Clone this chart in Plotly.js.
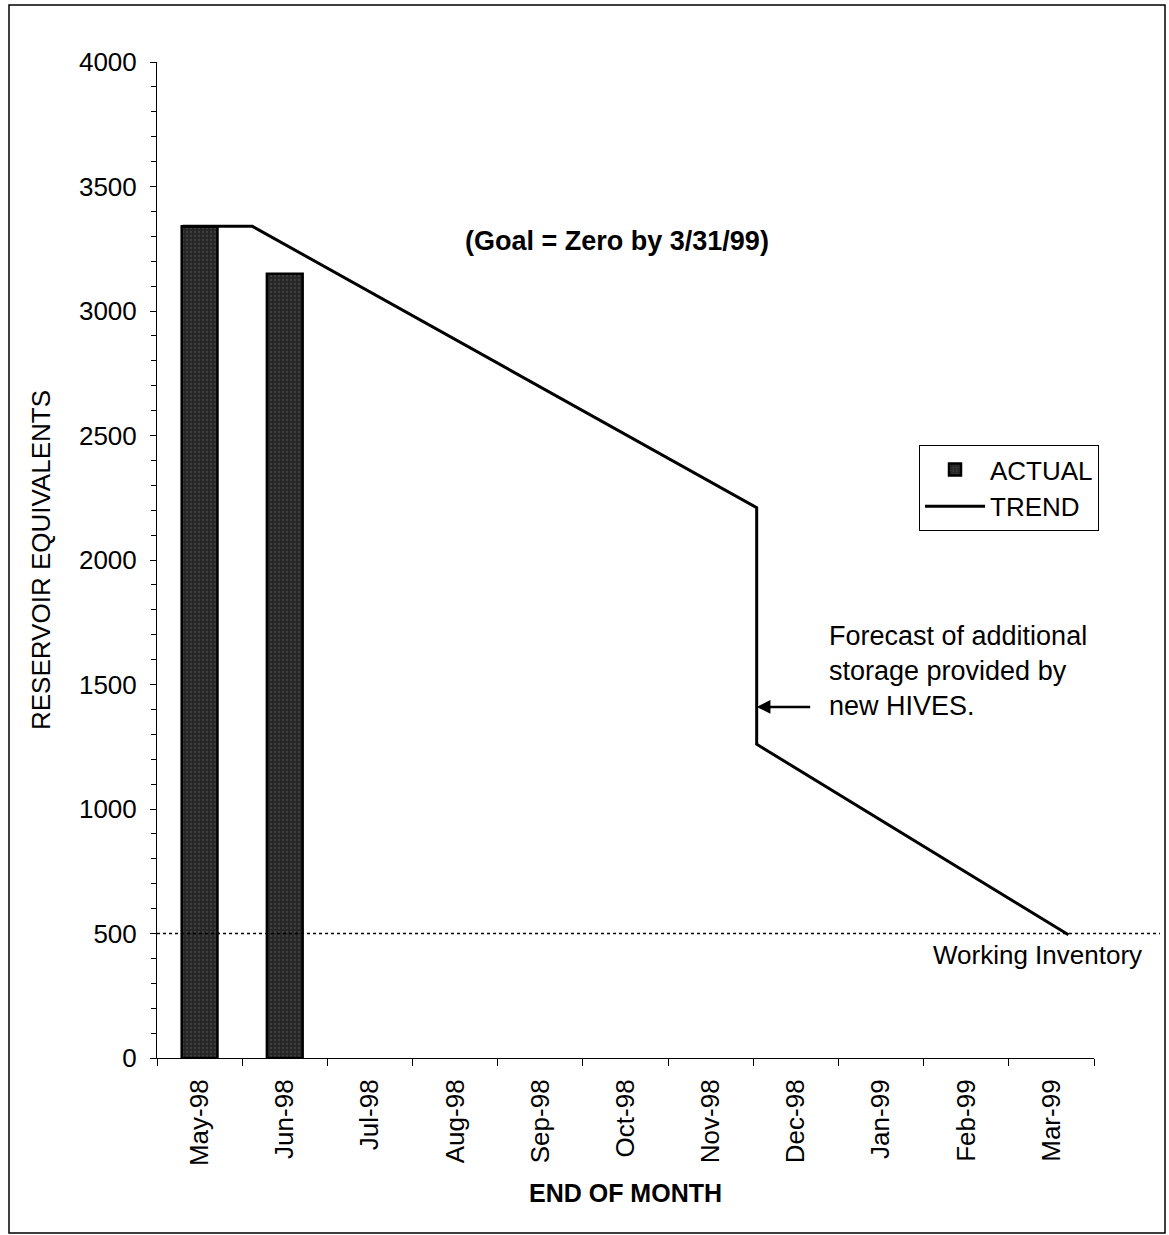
<!DOCTYPE html>
<html>
<head>
<meta charset="utf-8">
<script src="https://cdn.plot.ly/plotly-3.0.1.min.js"></script>
<style>html,body{margin:0;padding:0;background:#fff;}</style>
</head>
<body>
<div id="chart" style="width:1169px;height:1235px;"></div>
<script>
// Categories (end of month)
var months = ["May-98","Jun-98","Jul-98","Aug-98","Sep-98","Oct-98","Nov-98","Dec-98","Jan-99","Feb-99","Mar-99"];
// Actual values (bars)
var actual = [3340, 3150];
// Trend line (x in category-index units, y in reservoir equivalents)
var trendX = [-0.2, 0.62, 6.54, 6.54, 10.2];
var trendY = [3340, 3340, 2210, 1260, 495];
// Working inventory level
var workingInventory = 500;

var FONT = "Arial, 'Liberation Sans', sans-serif";

var W = 1169, H = 1235;
var mL = 157, mR = 75, mT = 62, mB = 177;
var pw = W - mL - mR, ph = H - mT - mB;
function px(x){ return (x - mL) / pw; }
function py(y){ return (H - mB - y) / ph; }

var traces = [
  {
    type: "bar",
    name: "ACTUAL",
    x: months.slice(0, actual.length),
    y: actual,
    width: 0.42,
    marker: {
      color: "#262626",
      line: {color: "#000", width: 2.5},
      pattern: {shape: ".", bgcolor: "#262626", fgcolor: "#5a5a5a", size: 4, solidity: 0.25, fillmode: "overlay"}
    },
    hoverinfo: "x+y"
  },
  {
    type: "scatter",
    mode: "lines",
    name: "TREND",
    x: trendX,
    y: trendY,
    xaxis: "x2",
    line: {color: "#000", width: 3}
  }
];

var layout = {
  width: W, height: H,
  margin: {l: mL, r: mR, t: mT, b: mB},
  paper_bgcolor: "#fff",
  plot_bgcolor: "#fff",
  font: {family: FONT, size: 26, color: "#000"},
  showlegend: true,
  legend: {
    x: px(919), y: py(445), xanchor: "left", yanchor: "top",
    bordercolor: "#000", borderwidth: 1, bgcolor: "#fff",
    font: {family: FONT, size: 26, color: "#000"},
    tracegroupgap: 0, itemwidth: 60
  },
  xaxis: {
    type: "category",
    categoryorder: "array",
    categoryarray: months,
    range: [-0.5, months.length - 0.5],
    tickson: "boundaries",
    ticks: "outside", ticklen: 7, tickcolor: "#000", tickwidth: 1,
    tickangle: -90,
    ticklabelstandoff: 10,
    tickfont: {family: FONT, size: 26, color: "#000"},
    showline: true, linecolor: "#000", linewidth: 1,
    showgrid: false, zeroline: false,
    title: {text: "<b>END OF MONTH</b>", font: {family: FONT, size: 25, color: "#000"}, standoff: 19}
  },
  xaxis2: {
    type: "linear",
    overlaying: "x",
    range: [-0.5, months.length - 0.5],
    visible: false
  },
  yaxis: {
    range: [0, 4000],
    dtick: 500, tick0: 0,
    ticks: "outside", ticklen: 6, tickcolor: "#000", tickwidth: 1,
    minor: {dtick: 100, ticks: "outside", ticklen: 5, tickcolor: "#000", tickwidth: 1, showgrid: false},
    ticklabelstandoff: 8,
    tickfont: {family: FONT, size: 26, color: "#000"},
    showline: true, linecolor: "#000", linewidth: 1,
    showgrid: false, zeroline: false,
    title: {text: "RESERVOIR EQUIVALENTS", font: {family: FONT, size: 26, color: "#000"}, standoff: 20}
  },
  shapes: [
    {type: "line", xref: "paper", yref: "y", x0: 0, x1: px(1160), y0: workingInventory, y1: workingInventory,
     line: {color: "#000", width: 1.5, dash: "dot"}},
    {type: "rect", xref: "paper", yref: "paper", x0: px(9), x1: px(1165), y0: py(1233), y1: py(5),
     line: {color: "#000", width: 1.5}, fillcolor: "rgba(0,0,0,0)", layer: "below"}
  ],
  annotations: [
    {xref: "paper", yref: "paper", x: px(617), y: py(241), text: "<b>(Goal = Zero by 3/31/99)</b>",
     showarrow: false, font: {family: FONT, size: 27, color: "#000"}, xanchor: "center", yanchor: "middle"},
    {xref: "paper", yref: "paper", x: px(827), y: py(671),
     text: "Forecast of additional<br>storage provided by<br>new HIVES.",
     showarrow: false, align: "left", xanchor: "left", yanchor: "middle",
     font: {family: FONT, size: 27, color: "#000"}},
    {xref: "x2", yref: "y", x: trendX[2], y: 1410, text: "", showarrow: true,
     ax: 55, ay: 0, arrowhead: 2, arrowsize: 1.1, arrowwidth: 2.5, arrowcolor: "#000", standoff: 0},
    {xref: "paper", yref: "paper", x: px(1144), y: py(955), text: "Working Inventory",
     showarrow: false, xanchor: "right", yanchor: "middle", font: {family: FONT, size: 26, color: "#000"}}
  ]
};

Plotly.newPlot("chart", traces, layout, {displayModeBar: false, staticPlot: true});
</script>
</body>
</html>
